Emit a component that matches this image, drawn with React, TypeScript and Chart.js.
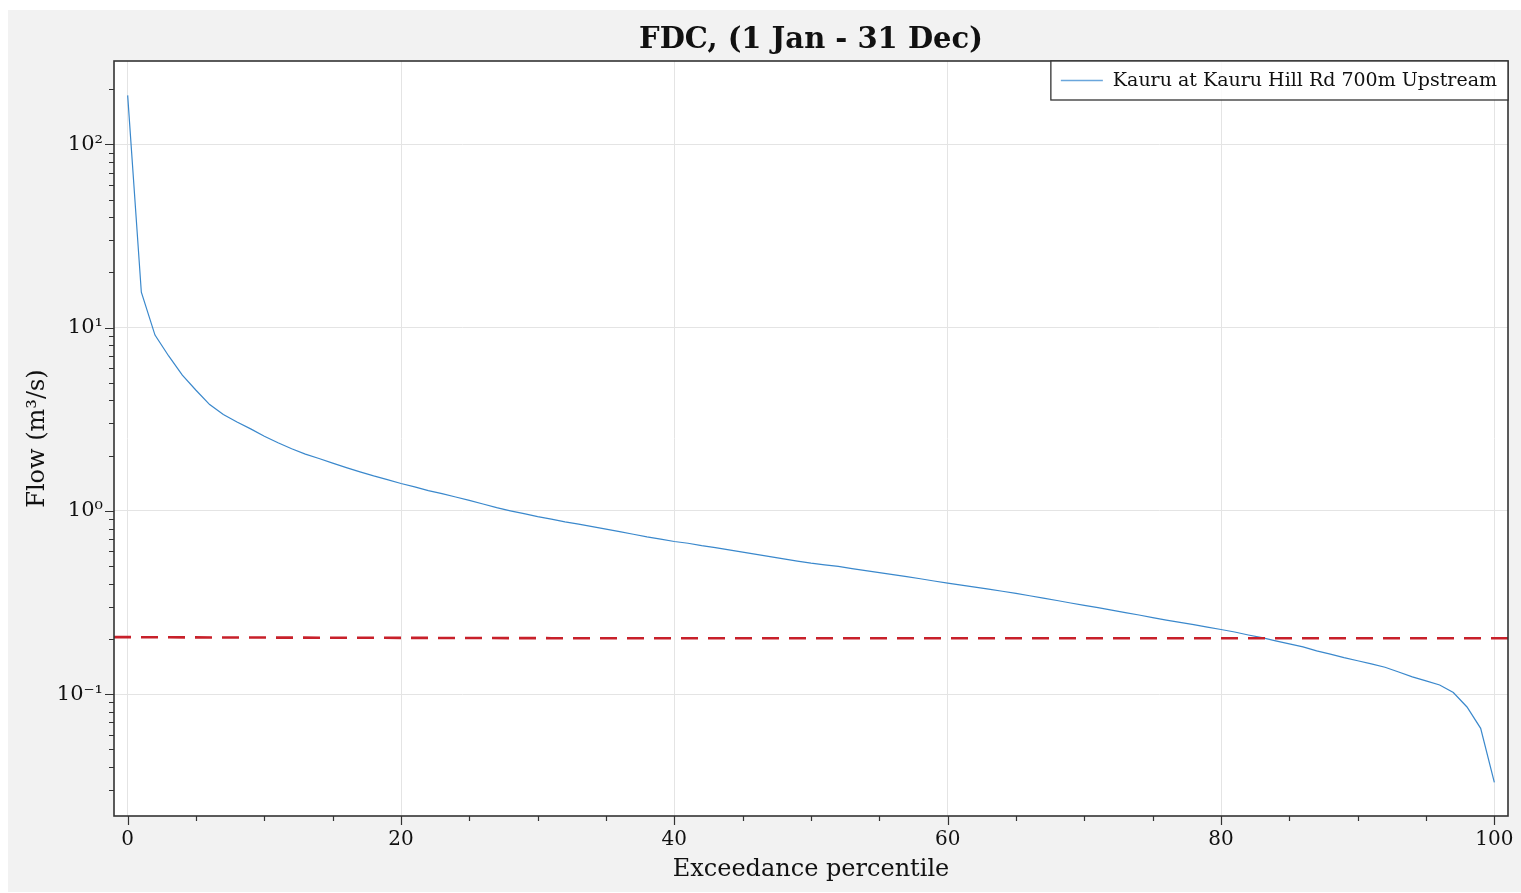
import { useEffect, useRef } from "react";
import { Chart, registerables } from "chart.js";

Chart.register(...registerables);

const FONT = "'DejaVu Serif', serif";

const chartTitle = "FDC, (1 Jan - 31 Dec)";
const seriesLabel = "Kauru at Kauru Hill Rd 700m Upstream";
const xAxisTitle = "Exceedance percentile";
const yAxisTitle = "Flow (m³/s)";

// exceedance percentile of each flow value
const exceedance = [
  0, 1, 2, 3, 4, 5, 6, 7, 8, 9, 10, 11, 12, 13, 14, 15, 16, 17, 18, 19, 20,
  21, 22, 23, 24, 25, 26, 27, 28, 29, 30, 31, 32, 33, 34, 35, 36, 37, 38, 39, 40,
  41, 42, 43, 44, 45, 46, 47, 48, 49, 50, 51, 52, 53, 54, 55, 56, 57, 58, 59, 60,
  61, 62, 63, 64, 65, 66, 67, 68, 69, 70, 71, 72, 73, 74, 75, 76, 77, 78, 79, 80,
  81, 82, 83, 84, 85, 86, 87, 88, 89, 90, 91, 92, 93, 94, 95, 96, 97, 98, 99, 100,
];

// flow (m³/s) exceeded at each percentile
const flow = [
  185, 15.6, 9.1, 7.0, 5.5, 4.55, 3.8, 3.35, 3.05, 2.8, 2.55,
  2.35, 2.18, 2.04, 1.93, 1.82, 1.72, 1.63, 1.55, 1.48, 1.41,
  1.35, 1.29, 1.24, 1.19, 1.14, 1.09, 1.04, 1.0, 0.965, 0.93,
  0.9, 0.87, 0.845, 0.82, 0.795, 0.77, 0.745, 0.72, 0.7, 0.68,
  0.665, 0.645, 0.63, 0.612, 0.595, 0.578, 0.562, 0.547, 0.532, 0.518,
  0.507, 0.497, 0.484, 0.472, 0.46, 0.449, 0.437, 0.426, 0.414, 0.403,
  0.393, 0.383, 0.374, 0.364, 0.354, 0.344, 0.334, 0.324, 0.314, 0.305,
  0.296, 0.287, 0.278, 0.27, 0.261, 0.253, 0.246, 0.239, 0.232, 0.225,
  0.218, 0.21, 0.203, 0.195, 0.188, 0.181, 0.172, 0.165, 0.158, 0.152,
  0.146, 0.14, 0.132, 0.124, 0.118, 0.112, 0.102, 0.085, 0.065, 0.033,
];

// reference flow line across the whole range
const limitX = [-1, 8, 31, 101];
const limitFlow = [0.2045, 0.2035, 0.2018, 0.2015];

const xMin = -1;
const xMax = 101;
const yMin = 0.0216;
const yMax = 285;

const xMajorTicks = [0, 20, 40, 60, 80, 100];
const xMinorTicks = [5, 10, 15, 25, 30, 35, 45, 50, 55, 65, 70, 75, 85, 90, 95];
const yMajorTicks = [0.1, 1, 10, 100];
const yTickLabels = ["10⁻¹", "10⁰", "10¹", "10²"];
const yMinorTicks = [
  0.03, 0.04, 0.05, 0.06, 0.07, 0.08, 0.09,
  0.2, 0.3, 0.4, 0.5, 0.6, 0.7, 0.8, 0.9,
  2, 3, 4, 5, 6, 7, 8, 9,
  20, 30, 40, 50, 60, 70, 80, 90,
  200,
];

const CANVAS_W = 1513;
const CANVAS_H = 882;
const LINE_BLUE = "#3a88cc";
const LIMIT_RED = "#c8202a";
const INK = "#111111";
const FRAME = "#333333";
const GRID = "#e4e4e4";

const framePlugin = {
  id: "frame",
  beforeDraw(chart: any) {
    const { ctx, chartArea } = chart;
    ctx.save();
    ctx.fillStyle = "#f2f2f2";
    ctx.fillRect(0, 0, chart.width, chart.height);
    ctx.fillStyle = "#ffffff";
    ctx.fillRect(
      chartArea.left,
      chartArea.top,
      chartArea.right - chartArea.left,
      chartArea.bottom - chartArea.top
    );
    ctx.restore();
  },
  afterDraw(chart: any) {
    const { ctx, chartArea } = chart;
    const { left, right, top, bottom } = chartArea;
    const xs = chart.scales.x;
    const ys = chart.scales.y;
    ctx.save();

    // axis frame
    ctx.strokeStyle = FRAME;
    ctx.lineWidth = 1.6;
    ctx.strokeRect(left, top, right - left, bottom - top);

    // tick marks, outward
    ctx.lineWidth = 1.2;
    ctx.beginPath();
    for (const v of yMajorTicks) {
      const p = Math.round(ys.getPixelForValue(v)) + 0.5;
      ctx.moveTo(left - 9, p);
      ctx.lineTo(left, p);
    }
    for (const v of yMinorTicks) {
      const p = Math.round(ys.getPixelForValue(v)) + 0.5;
      ctx.moveTo(left - 5, p);
      ctx.lineTo(left, p);
    }
    for (const v of xMajorTicks) {
      const p = Math.round(xs.getPixelForValue(v)) + 0.5;
      ctx.moveTo(p, bottom);
      ctx.lineTo(p, bottom + 9);
    }
    for (const v of xMinorTicks) {
      const p = Math.round(xs.getPixelForValue(v)) + 0.5;
      ctx.moveTo(p, bottom);
      ctx.lineTo(p, bottom + 5);
    }
    ctx.stroke();

    // title centred over the plotting area
    ctx.fillStyle = INK;
    ctx.font = `bold 29px ${FONT}`;
    ctx.textAlign = "center";
    ctx.textBaseline = "middle";
    ctx.fillText(chartTitle, (left + right) / 2, 30);

    // legend box in the upper-right corner
    ctx.font = `19px ${FONT}`;
    const textW = ctx.measureText(seriesLabel).width;
    const boxRight = right;
    const boxLeft = boxRight - (10 + 42 + 10 + textW + 11);
    const boxTop = top;
    const boxBottom = top + 39;
    const midY = (boxTop + boxBottom) / 2;
    ctx.fillStyle = "rgba(255,255,255,0.85)";
    ctx.fillRect(boxLeft, boxTop, boxRight - boxLeft, boxBottom - boxTop);
    ctx.strokeStyle = FRAME;
    ctx.lineWidth = 1.3;
    ctx.strokeRect(boxLeft, boxTop, boxRight - boxLeft, boxBottom - boxTop);
    ctx.strokeStyle = "#6aa6dc";
    ctx.lineWidth = 1.4;
    ctx.beginPath();
    ctx.moveTo(boxLeft + 10, midY);
    ctx.lineTo(boxLeft + 52, midY);
    ctx.stroke();
    ctx.fillStyle = INK;
    ctx.textAlign = "left";
    ctx.textBaseline = "middle";
    ctx.fillText(seriesLabel, boxLeft + 62, midY + 1);

    ctx.restore();
  },
};

export default function App() {
  const canvasRef = useRef<HTMLCanvasElement | null>(null);

  useEffect(() => {
    const canvas = canvasRef.current;
    if (!canvas) return;

    const chart = new Chart(canvas, {
      type: "line",
      data: {
        datasets: [
          {
            label: "limit",
            data: limitX.map((x, i) => ({ x, y: limitFlow[i] })),
            borderColor: LIMIT_RED,
            borderWidth: 2.6,
            borderDash: [17, 10],
            pointRadius: 0,
            fill: false,
          },
          {
            label: seriesLabel,
            data: exceedance.map((x, i) => ({ x, y: flow[i] })),
            borderColor: LINE_BLUE,
            borderWidth: 1.2,
            pointRadius: 0,
            tension: 0,
            fill: false,
          },
        ],
      },
      options: {
        animation: false,
        responsive: false,
        devicePixelRatio: 1,
        layout: { padding: { top: 51, right: 13, left: 0, bottom: 0 } },
        plugins: {
          legend: { display: false },
          title: { display: false },
          tooltip: { enabled: false },
        },
        scales: {
          x: {
            type: "linear",
            min: xMin,
            max: xMax,
            afterBuildTicks: (s: any) => {
              s.ticks = xMajorTicks.map((v) => ({ value: v }));
            },
            afterFit: (s: any) => {
              s.height = 76;
              s.paddingLeft = 0;
              s.paddingRight = 0;
            },
            grid: { color: GRID, lineWidth: 1, drawTicks: false },
            border: { display: false },
            ticks: {
              font: { family: FONT, size: 20 },
              color: INK,
              padding: 12,
              maxRotation: 0,
              autoSkip: false,
              callback: (v: any) => String(v),
            },
            title: {
              display: true,
              text: xAxisTitle,
              font: { family: FONT, size: 24 },
              color: INK,
              padding: { top: 0, bottom: 8 },
            },
          },
          y: {
            type: "logarithmic",
            min: yMin,
            max: yMax,
            afterBuildTicks: (s: any) => {
              s.ticks = yMajorTicks.map((v) => ({ value: v }));
            },
            afterFit: (s: any) => {
              s.width = 106;
              s.paddingTop = 0;
              s.paddingBottom = 0;
            },
            grid: { color: GRID, lineWidth: 1, drawTicks: false },
            border: { display: false },
            ticks: {
              font: { family: FONT, size: 21 },
              color: INK,
              padding: 11,
              autoSkip: false,
              callback: (v: any) => {
                const i = yMajorTicks.indexOf(Number(v));
                return i >= 0 ? yTickLabels[i] : "";
              },
            },
            title: {
              display: true,
              text: yAxisTitle,
              font: { family: FONT, size: 24 },
              color: INK,
              padding: { top: 15, bottom: 0 },
            },
          },
        },
      },
      plugins: [framePlugin],
    });

    return () => chart.destroy();
  }, []);

  return (
    <div style={{ position: "absolute", left: 8, top: 10, width: CANVAS_W, height: CANVAS_H }}>
      <canvas ref={canvasRef} width={CANVAS_W} height={CANVAS_H} style={{ display: "block" }} />
    </div>
  );
}
